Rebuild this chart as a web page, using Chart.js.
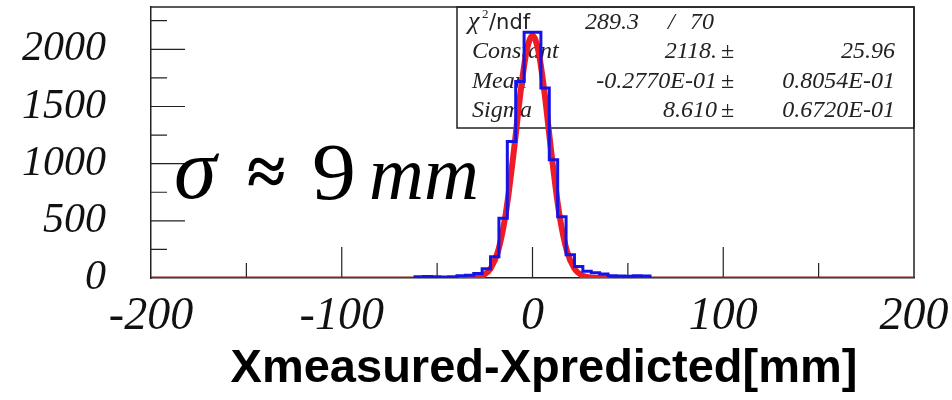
<!DOCTYPE html>
<html>
<head>
<meta charset="utf-8">
<script src="https://cdn.jsdelivr.net/npm/chart.js@4.4.0/dist/chart.umd.min.js"></script>
<style>
html, body { margin: 0; padding: 0; background: #fff; }
#wrap { width: 952px; height: 400px; }
</style>
</head>
<body>
<div id="wrap"><canvas id="residuo" width="952" height="400"></canvas></div>
<script>
// histogram: lower bin edges (mm) and counts
const binWidth = 4.4;
const binLow = [-61.6, -57.2, -52.8, -48.4, -44.0, -39.6, -35.2, -30.8, -26.4, -22.0,
                -17.6, -13.2, -8.8, -4.4, 0.0, 4.4, 8.8, 13.2, 17.6, 22.0,
                26.4, 30.8, 35.2, 39.6, 44.0, 48.4, 52.8, 57.2];
const counts = [12, 14, 10, 8, 10, 20, 25, 40, 80, 186,
                523, 1193, 1718, 2150, 2150, 1661, 1035, 536, 203, 100,
                60, 45, 35, 20, 18, 15, 20, 18];

// gaussian fit (red line)
const fitX = [-200, -40, -32, -26, -22, -18, -14, -10, -6, -3, 0, 3, 6, 10, 14, 18, 22, 26, 32, 40, 200];
const fitY = [0, 0, 2, 22, 81, 238, 565, 1079, 1661, 1993, 2118, 1993, 1661, 1079, 565, 238, 81, 22, 2, 0, 0];

// axes
const xMin = -200, xMax = 200, xMinorStep = 50;
const xTickValues = [-200, -100, 0, 100, 200];
const yMin = 0, yMax = 2370, yMinorStep = 250;
const yTickValues = [0, 500, 1000, 1500, 2000];

// stats box
const chi2 = '289.3', ndf = '70';
const parNames = ['Constant', 'Mean', 'Sigma'];
const parValues = ['2118.', '-0.2770E-01', '8.610'];
const parErrors = ['25.96', '0.8054E-01', '0.6720E-01'];

const xTitle = 'Xmeasured-Xpredicted[mm]';

const histoPts = [{ x: binLow[0], y: 0 }];
binLow.forEach((b, i) => histoPts.push({ x: b, y: counts[i] }));
histoPts.push({ x: binLow[binLow.length - 1] + binWidth, y: 0 });

const fitPts = fitX.map((x, i) => ({ x: x, y: fitY[i] }));

const serif = 'Liberation Serif, Times New Roman, serif';

// the flat part of the fit sits on the axis and looks dark red and thin
const onAxis = ctx => ctx.p0.parsed.y === 0 && ctx.p1.parsed.y === 0;

const rootDecor = {
    id: 'rootDecor',
    beforeDatasetsDraw(chart) {
        const { ctx, chartArea: a, scales: { x, y } } = chart;
        ctx.save();
        ctx.strokeStyle = '#222';
        ctx.lineWidth = 1.5;
        // frame top and right
        ctx.beginPath();
        ctx.moveTo(a.left, a.top); ctx.lineTo(a.right, a.top); ctx.lineTo(a.right, a.bottom);
        ctx.stroke();

        // inward ticks
        ctx.lineWidth = 1.2;
        ctx.beginPath();
        for (let v = yMinorStep; v < yMax; v += yMinorStep) {
            const py = y.getPixelForValue(v);
            const len = yTickValues.includes(v) ? 34 : 16;
            ctx.moveTo(a.left, py); ctx.lineTo(a.left + len, py);
        }
        for (let v = xMin + xMinorStep; v < xMax; v += xMinorStep) {
            const px = x.getPixelForValue(v);
            const len = xTickValues.includes(v) ? 31 : 15;
            ctx.moveTo(px, a.bottom); ctx.lineTo(px, a.bottom - len);
        }
        ctx.stroke();

        // stats box
        const bx = 457, by = a.top, bw = a.right - bx, bh = 121;
        ctx.lineWidth = 1.5;
        ctx.strokeRect(bx, by, bw, bh);
        ctx.fillStyle = '#222';
        ctx.textBaseline = 'alphabetic';
        ctx.textAlign = 'left';
        ctx.font = 'italic 26px ' + serif;
        ctx.fillText('\u03c7', 468, 29);
        ctx.font = '13px ' + serif;
        ctx.fillText('2', 482, 18);
        ctx.font = '21px DejaVu Sans, sans-serif';
        ctx.fillText('/ndf', 489, 29);
        ctx.font = 'italic 24px ' + serif;
        ctx.fillText(chi2, 585, 29);
        ctx.fillText('/', 668, 29);
        ctx.fillText(ndf, 690, 29);
        const rowsY = [58, 88, 117];
        parNames.forEach((n, i) => {
            ctx.textAlign = 'left';
            ctx.font = 'italic 24px ' + serif;
            ctx.fillText(n, 472, rowsY[i]);
            ctx.textAlign = 'right';
            ctx.fillText(parValues[i], 717, rowsY[i]);
            ctx.fillText(parErrors[i], 895, rowsY[i]);
            ctx.textAlign = 'left';
            ctx.font = '24px ' + serif;
            ctx.fillText('\u00b1', 721, rowsY[i]);
        });

        // sigma annotation
        ctx.fillStyle = '#000';
        ctx.textAlign = 'left';
        ctx.font = 'italic 86px ' + serif;
        ctx.fillText('\u03c3', 174, 198);
        ctx.font = 'bold 70px ' + serif;
        ctx.fillText('\u2248', 247, 195);
        ctx.save();
        ctx.translate(312, 199);
        ctx.scale(1.1, 1);
        ctx.font = '80px ' + serif;
        ctx.fillText('9', 0, 0);
        ctx.restore();
        ctx.font = 'italic 76px ' + serif;
        ctx.fillText('mm', 369, 199);
        ctx.restore();
    },
    afterDraw(chart) {
        const { ctx } = chart;
        ctx.save();
        ctx.fillStyle = '#000';
        ctx.font = 'bold 47px Liberation Sans, Arial, sans-serif';
        ctx.textAlign = 'center';
        ctx.textBaseline = 'middle';
        ctx.fillText(xTitle, 544, 369);
        ctx.restore();
    }
};

const tickFont = { family: serif, style: 'italic' };

new Chart(document.getElementById('residuo'), {
    type: 'line',
    data: {
        datasets: [
            {
                label: 'histo',
                data: histoPts,
                stepped: true,
                borderColor: '#1414e6',
                borderWidth: 3,
                pointRadius: 0,
                fill: false
            },
            {
                label: 'gaus',
                data: fitPts,
                borderColor: '#ee1c25',
                borderWidth: 6,
                pointRadius: 0,
                cubicInterpolationMode: 'monotone',
                fill: false,
                segment: {
                    borderColor: c => onAxis(c) ? '#8e1d1d' : undefined,
                    borderWidth: c => onAxis(c) ? 3 : undefined
                }
            }
        ]
    },
    options: {
        responsive: false,
        animation: false,
        layout: { autoPadding: false, padding: { top: 7, right: 38, left: 0, bottom: 0 } },
        plugins: { legend: { display: false }, tooltip: { enabled: false } },
        scales: {
            x: {
                type: 'linear', min: xMin, max: xMax,
                grid: { display: false, drawTicks: false },
                border: { display: true, color: '#222', width: 1.5 },
                afterBuildTicks: s => { s.ticks = xTickValues.map(v => ({ value: v })); },
                ticks: {
                    padding: 11, maxRotation: 0, autoSkip: false,
                    color: '#111', font: Object.assign({ size: 46 }, tickFont),
                    callback: v => String(v)
                },
                afterFit: s => { s.height = 122; s.paddingLeft = 0; s.paddingRight = 0; }
            },
            y: {
                type: 'linear', min: yMin, max: yMax,
                grid: { display: false, drawTicks: false },
                border: { display: true, color: '#222', width: 1.5 },
                afterBuildTicks: s => { s.ticks = yTickValues.map(v => ({ value: v })); },
                ticks: {
                    padding: 45, autoSkip: false,
                    color: '#111', font: Object.assign({ size: 42 }, tickFont),
                    callback: v => String(v)
                },
                afterFit: s => { s.width = 151; s.paddingTop = 0; s.paddingBottom = 0; }
            }
        }
    },
    plugins: [rootDecor]
});
</script>
</body>
</html>
